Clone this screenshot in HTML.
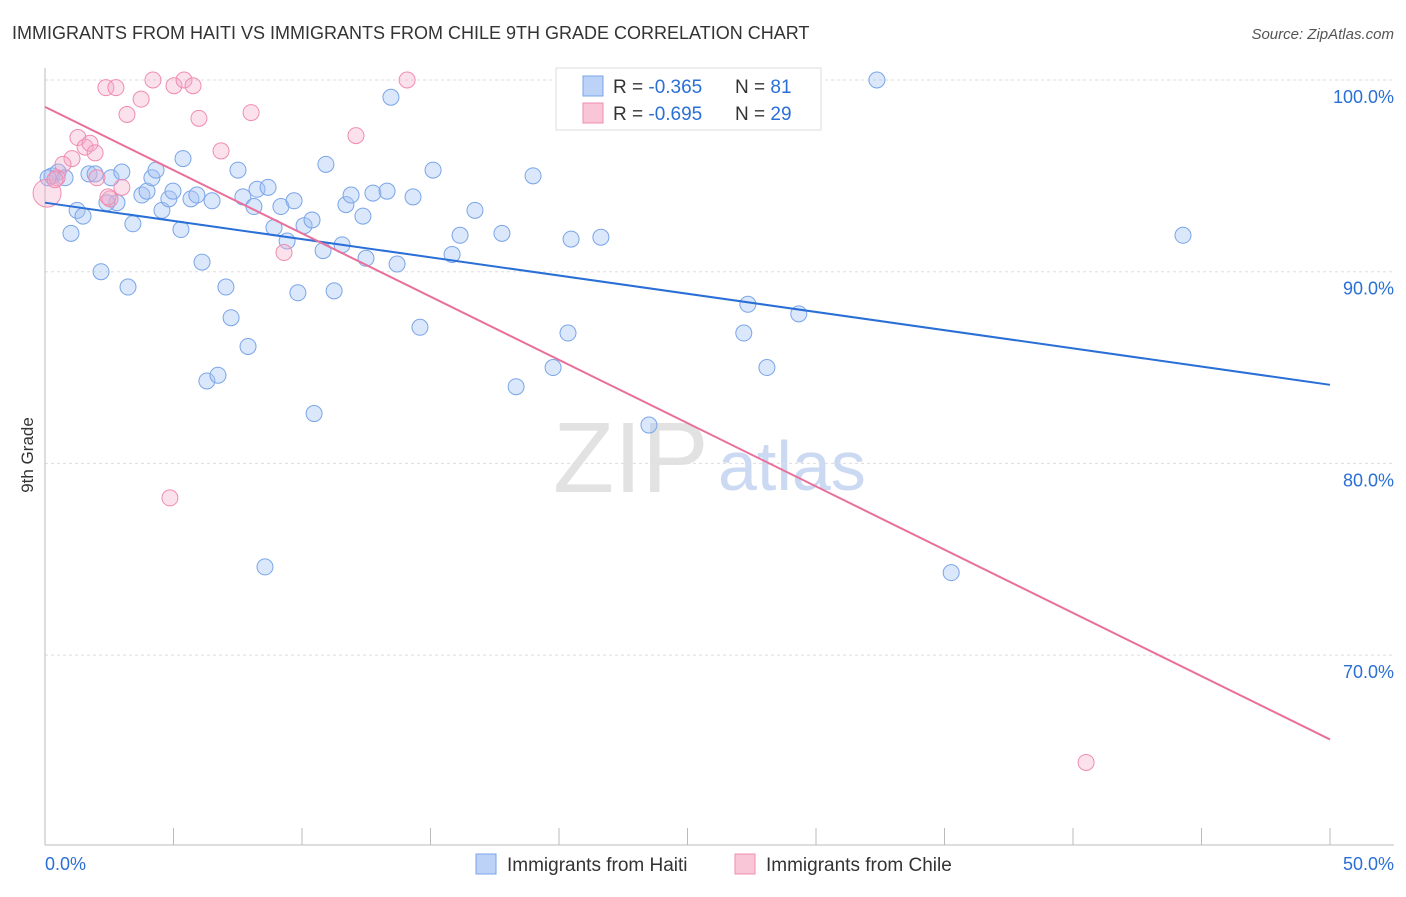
<!DOCTYPE html>
<html><head><meta charset="utf-8"><style>
body{margin:0;background:#fff;font-family:"Liberation Sans",sans-serif;}
svg text{font-family:"Liberation Sans",sans-serif;}
</style></head><body>
<svg id="chart" width="1406" height="892">
<text x="12" y="39" font-size="18" fill="#333">IMMIGRANTS FROM HAITI VS IMMIGRANTS FROM CHILE 9TH GRADE CORRELATION CHART</text>
<text x="1394" y="39" font-size="15" fill="#555" font-style="italic" text-anchor="end">Source: ZipAtlas.com</text>
<text x="33" y="455" font-size="17" fill="#333" transform="rotate(-90 33 455)" text-anchor="middle">9th Grade</text>
<text x="553" y="492" font-size="100" fill="#e2e2e2" font-family="Liberation Serif">ZIP</text>
<text x="718" y="490" font-size="70" fill="#cbdaf2">atlas</text>
<g id="grid"></g><g id="axes"></g><g id="pts"></g><g id="lines"></g>
<g>
<rect x="556" y="68" width="265" height="62" fill="#fff" stroke="#ddd"/>
<rect x="583" y="76" width="20" height="20" fill="#bcd3f7" stroke="#7aa5e8"/>
<rect x="583" y="103" width="20" height="20" fill="#f9c6d7" stroke="#f08cb0"/>
<text x="613" y="93" font-size="19" fill="#333">R = <tspan fill="#2a6fd6">-0.365</tspan><tspan x="735">N = </tspan><tspan fill="#2a6fd6">81</tspan></text>
<text x="613" y="120" font-size="19" fill="#333">R = <tspan fill="#2a6fd6">-0.695</tspan><tspan x="735">N = </tspan><tspan fill="#2a6fd6">29</tspan></text>
</g>
<g>
<rect x="476" y="854" width="20" height="20" fill="#bcd3f7" stroke="#7aa5e8"/>
<text x="507" y="871" font-size="19" fill="#333">Immigrants from Haiti</text>
<rect x="735" y="854" width="20" height="20" fill="#f9c6d7" stroke="#f08cb0"/>
<text x="766" y="871" font-size="19" fill="#333">Immigrants from Chile</text>
</g>
<text x="45" y="870" font-size="18" fill="#2a6fd6">0.0%</text>
<text x="1394" y="870" font-size="18" fill="#2a6fd6" text-anchor="end">50.0%</text>
</svg>
<script>
const yTicks=[100,90,80,70];
const xTickCount=10;
const haitiX=[0.27,0.51,0.78,1.25,1.48,1.01,1.71,2.18,1.95,2.57,2.80,2.99,2.41,3.23,3.42,3.77,3.97,4.16,4.32,4.55,4.82,4.98,5.29,5.37,5.68,5.91,6.11,6.50,6.30,6.73,7.04,7.24,7.51,7.70,7.90,8.13,8.25,8.68,8.56,8.91,9.18,9.42,9.69,9.84,10.08,10.39,10.47,10.82,10.93,11.25,11.56,11.71,11.91,12.37,12.49,12.76,13.31,13.46,13.70,14.32,14.59,15.10,15.84,16.15,16.73,17.78,18.33,18.99,19.77,20.35,20.47,21.63,23.50,27.19,27.35,28.09,29.33,32.37,35.26,44.28,0.12];
const haitiY=[95.0,95.2,94.9,93.2,92.9,92.0,95.1,90.0,95.1,94.9,93.6,95.2,93.6,89.2,92.5,94.0,94.2,94.9,95.3,93.2,93.8,94.2,92.2,95.9,93.8,94.0,90.5,93.7,84.3,84.6,89.2,87.6,95.3,93.9,86.1,93.4,94.3,94.4,74.6,92.3,93.4,91.6,93.7,88.9,92.4,92.7,82.6,91.1,95.6,89.0,91.4,93.5,94.0,92.9,90.7,94.1,94.2,99.1,90.4,93.9,87.1,95.3,90.9,91.9,93.2,92.0,84.0,95.0,85.0,86.8,91.7,91.8,82.0,86.8,88.3,85.0,87.8,100.0,74.3,91.9,94.9];
const chileX=[0.08,0.47,1.05,1.28,1.56,1.75,1.95,2.02,2.37,2.53,2.76,2.99,3.19,3.74,4.20,4.86,5.02,5.41,5.76,5.99,6.85,8.02,9.30,12.10,14.09,40.51,0.70,0.39,2.45];
const chileY=[94.1,94.9,95.9,97.0,96.5,96.7,96.2,94.9,99.6,93.8,99.6,94.4,98.2,99.0,100.0,78.2,99.7,100.0,99.7,98.0,96.3,98.3,91.0,97.1,100.0,64.4,95.6,94.8,93.9];
const haitiFit=[93.6,84.1];
const chileFit=[98.6,65.6];
const NS='http://www.w3.org/2000/svg';
const X=v=>45+v/50*1285, Y=v=>80+(100-v)*19.17;
function mk(tag,at,par){const e=document.createElementNS(NS,tag);for(const k in at)e.setAttribute(k,at[k]);document.getElementById(par).appendChild(e);return e;}
yTicks.forEach(t=>{
 const l=mk('line',{x1:45,x2:1394,y1:Y(t),y2:Y(t),stroke:'#ddd','stroke-dasharray':'3,3'},'grid');
 
 
 const tx=mk('text',{x:1394,y:Y(t)+23,'font-size':18,fill:'#2a6fd6','text-anchor':'end'},'grid');tx.textContent=t.toFixed(1)+'%';
 
 
});
const ax=mk('line',{x1:45,x2:45,y1:68,y2:845,stroke:'#bbb'},'axes');


const bx=mk('line',{x1:45,x2:1394,y1:845,y2:845,stroke:'#bbb'},'axes');


for(let i=0;i<=xTickCount;i++){const v=i*50/xTickCount;const t=mk('line',{x1:X(v),x2:X(v),y1:828,y2:845,stroke:'#bbb'},'axes');
 
 }
haitiX.forEach((x,i)=>{const c=mk('circle',{cx:X(x),cy:Y(haitiY[i]),r:8,fill:'rgba(164,194,244,0.4)',stroke:'#7aa5e8','stroke-width':1},'pts');
 
 });
chileX.forEach((x,i)=>{const c=mk('circle',{cx:X(x),cy:Y(chileY[i]),r:i===0?14:8,fill:'rgba(244,170,200,0.35)',stroke:'#f08cb0','stroke-width':1},'pts');
 
 });
const hl=mk('line',{x1:X(0),y1:Y(haitiFit[0]),x2:X(50),y2:Y(haitiFit[1]),stroke:'#2a6fd6','stroke-width':2},'lines');


const cl=mk('line',{x1:X(0),y1:Y(chileFit[0]),x2:X(50),y2:Y(chileFit[1]),stroke:'#e8709a','stroke-width':2},'lines');


</script>
</body></html>
